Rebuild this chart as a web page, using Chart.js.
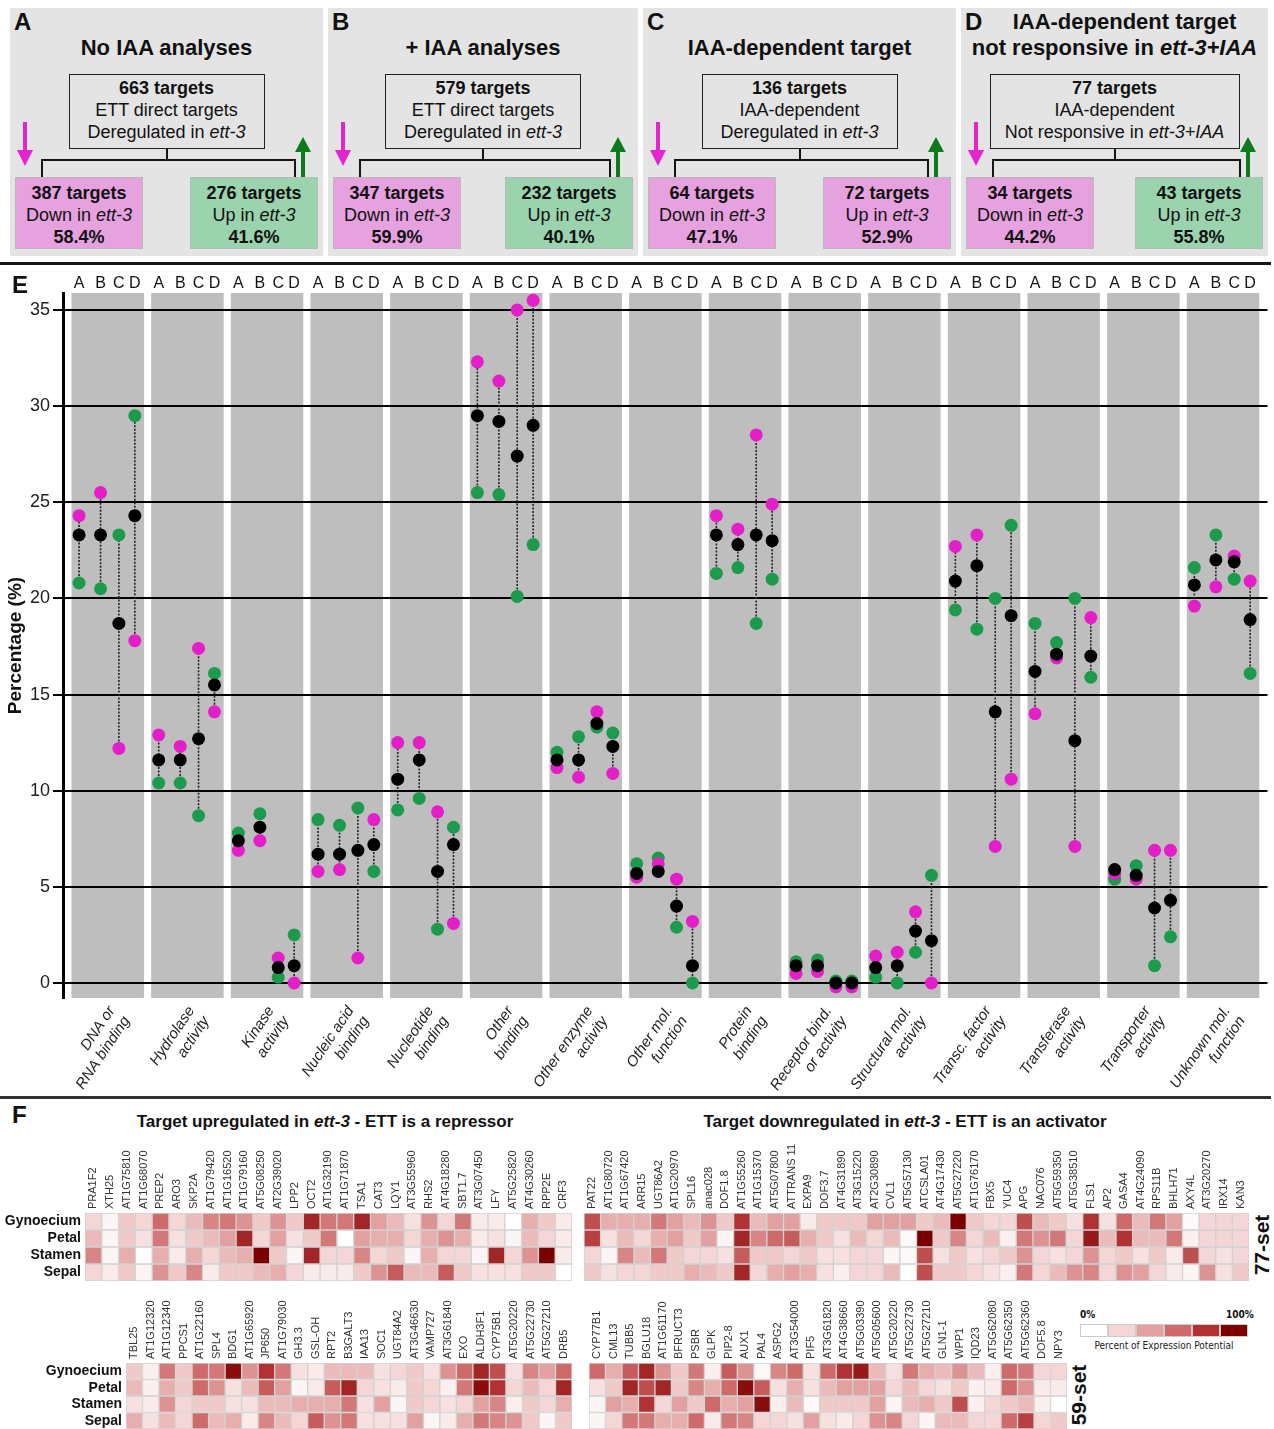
<!DOCTYPE html>
<html lang="en">
<head>
<meta charset="UTF-8">
<title>ETT direct targets</title>
<script src="https://cdn.jsdelivr.net/npm/chart.js@4.4.0/dist/chart.umd.min.js"></script>
<style>
  body { margin: 0; background: #fff; font-family: Arial, "Liberation Sans", sans-serif; color: #111; }
  #page { position: relative; width: 1274px; height: 1429px; overflow: hidden; }
  .abs { position: absolute; }
  .pnl { position: absolute; top: 8px; height: 248px; background: #e4e4e4; }
  .letter { position: absolute; font-weight: bold; font-size: 24px; line-height: 24px; }
  .ttl { position: absolute; font-weight: bold; font-size: 22px; line-height: 26px; text-align: center; white-space: nowrap; }
  .tbox { position: absolute; top: 74px; height: 75px; border: 1px solid #222; box-sizing: border-box; font-size: 18px; line-height: 22px; text-align: center; padding-top: 2px; white-space: nowrap; }
  .sbox { position: absolute; top: 177px; width: 128px; height: 72px; box-sizing: border-box; border: 1px solid #b9b9b9; font-size: 18px; line-height: 22px; text-align: center; padding-top: 4px; white-space: nowrap; }
  .pink { background: #e6a1df; }
  .green { background: #9ad3ae; }
  .ln { position: absolute; background: #151515; }
  .sub { position: absolute; font-weight: bold; font-size: 17px; white-space: nowrap; transform: translateX(-50%); }
  .setlab { position: absolute; font-weight: bold; font-size: 21px; transform: rotate(-90deg); transform-origin: center; white-space: nowrap; }
  canvas { position: absolute; }
</style>
</head>
<body>
<div id="page">
  <canvas id="chartE" width="1274" height="833" style="left:0;top:265px"></canvas>
  <canvas id="heatUp77" width="572" height="141" style="left:0;top:1140px"></canvas>
  <canvas id="heatDown77" width="665" height="141" style="left:584px;top:1140px"></canvas>
  <canvas id="heatUp59" width="572" height="139" style="left:0;top:1290px"></canvas>
  <canvas id="heatDown59" width="478" height="139" style="left:589px;top:1290px"></canvas>

  <div class="ln" style="left:0;top:262px;width:1271px;height:3px"></div>
  <div class="ln" style="left:0;top:1096px;width:1271px;height:3px;background:#333"></div>
  <div class="letter" style="left:12px;top:273px">E</div>
  <div class="letter" style="left:12px;top:1103px">F</div>
  <div class="sub" style="left:325px;top:1112px">Target upregulated in <i>ett-3</i> - ETT is a repressor</div>
  <div class="sub" style="left:905px;top:1112px">Target downregulated in <i>ett-3</i> - ETT is an activator</div>
  <div class="setlab" style="left:1232px;top:1233px">77-set</div>
  <div class="setlab" style="left:1049px;top:1383px">59-set</div>
  <div id="heatLegend"></div>
</div>

<script>
// Panel E: percentage of targets per molecular-function class, sets A-D
const functionLabels = [
  ['DNA or', 'RNA binding'], ['Hydrolase', 'activity'], ['Kinase', 'activity'],
  ['Nucleic acid', 'binding'], ['Nucleotide', 'binding'], ['Other', 'binding'],
  ['Other enzyme', 'activity'], ['Other mol.', 'function'], ['Protein', 'binding'],
  ['Receptor bind.', 'or activity'], ['Structural mol.', 'activity'], ['Transc. factor', 'activity'],
  ['Transferase', 'activity'], ['Transporter', 'activity'], ['Unknown mol.', 'function']
];
const setLetters = ['A', 'B', 'C', 'D'];
const yTicks = [0, 5, 10, 15, 20, 25, 30, 35];

// four values per class, in order A, B, C, D
const downPct = [
  24.3, 25.5, 12.2, 17.8,   12.9, 12.3, 17.4, 14.1,   6.9, 7.4, 1.3, 0.0,
  5.8, 5.9, 1.3, 8.5,       12.5, 12.5, 8.9, 3.1,     32.3, 31.3, 35.0, 35.5,
  11.2, 10.7, 14.1, 10.9,   5.5, 6.2, 5.4, 3.2,       24.3, 23.6, 28.5, 24.9,
  0.5, 0.6, -0.2, -0.2,     1.4, 1.6, 3.7, 0.0,       22.7, 23.3, 7.1, 10.6,
  14.0, 16.9, 7.1, 19.0,    5.7, 5.4, 6.9, 6.9,       19.6, 20.6, 22.2, 20.9
];
const allPct = [
  23.3, 23.3, 18.7, 24.3,   11.6, 11.6, 12.7, 15.5,   7.4, 8.1, 0.8, 0.9,
  6.7, 6.7, 6.9, 7.2,       10.6, 11.6, 5.8, 7.2,     29.5, 29.2, 27.4, 29.0,
  11.6, 11.6, 13.5, 12.3,   5.7, 5.8, 4.0, 0.9,       23.3, 22.8, 23.3, 23.0,
  0.9, 0.9, 0.0, 0.0,       0.8, 0.9, 2.7, 2.2,       20.9, 21.7, 14.1, 19.1,
  16.2, 17.1, 12.6, 17.0,   5.9, 5.6, 3.9, 4.3,       20.7, 22.0, 21.9, 18.9
];
const upPct = [
  20.8, 20.5, 23.3, 29.5,   10.4, 10.4, 8.7, 16.1,    7.8, 8.8, 0.3, 2.5,
  8.5, 8.2, 9.1, 5.8,       9.0, 9.6, 2.8, 8.1,       25.5, 25.4, 20.1, 22.8,
  12.0, 12.8, 13.3, 13.0,   6.2, 6.5, 2.9, 0.0,       21.3, 21.6, 18.7, 21.0,
  1.1, 1.2, 0.1, 0.1,       0.3, 0.0, 1.6, 5.6,       19.4, 18.4, 20.0, 23.8,
  18.7, 17.7, 20.0, 15.9,   5.4, 6.1, 0.9, 2.4,       21.6, 23.3, 21.0, 16.1
];

// Panel F: percent of expression potential per tissue
const tissues = ['Gynoecium', 'Petal', 'Stamen', 'Sepal'];
const up77Genes = ['PRA1F2','XTH25','AT1G75810','AT1G68070','PREP2','ARO3','SKP2A','AT1G79420','AT1G16520','AT1G79160',
  'AT5G08250','AT2G39020','LPP2','OCT2','AT1G32190','AT1G71870','TSA1','CAT3','LQY1','AT3G55960',
  'RHS2','AT4G18280','SBT1.7','AT3G07450','LFY','AT5G25820','AT4G30260','RPP2E','CRF3'];
const up77Values = [
  [20,5,25,20,60,20,30,50,55,45, 25,45,25,85,55,55,85,40,30,15, 45,20,55,10,10,0,35,25,10],
  [30,5,25,15,55,15,25,30,40,85, 20,40,15,25,55,0,40,35,35,20, 35,45,35,10,15,5,30,20,10],
  [50,5,35,0,35,10,35,20,30,35, 100,25,5,85,20,20,50,20,25,5, 35,20,20,5,85,20,45,100,10],
  [20,10,25,5,45,25,50,10,25,25, 30,35,20,10,10,10,25,45,65,30, 30,65,25,15,15,15,25,25,0]
];
const down77Genes = ['PAT22','AT1G80720','AT1G67420','ARR15','UGT86A2','AT1G20970','SPL16','anac028','DOF1.8','AT1G55260',
  'AT1G15370','AT5G07800','ATTRANS 11','EXPA9','DOF3.7','AT4G31890','AT3G15220','AT2G30890','CVL1','AT5G57130',
  'ATCSLA01','AT4G17430','AT5G27220','AT1G76170','FBX5','YUC4','APG','NAC076','AT5G59350','AT5G38510',
  'FLS1','AP2','GASA4','AT4G24090','RPS11B','BHLH71','AXY4L','AT3G20270','IRX14','KAN3'];
const down77Values = [
  [70,35,35,35,55,40,30,45,25,80, 30,40,40,10,25,25,25,40,40,40, 25,30,100,25,20,20,70,30,25,15, 80,15,60,30,55,40,3,20,20,20],
  [75,15,30,20,35,40,25,40,5,85, 50,60,65,35,25,15,30,20,30,3, 100,25,50,20,30,8,55,45,55,20, 90,30,80,30,30,55,8,20,20,20],
  [20,5,50,30,55,25,20,20,15,65, 25,25,20,25,15,15,20,20,5,3, 70,15,25,15,20,25,45,20,15,20, 45,20,25,15,25,10,70,20,15,20],
  [25,15,20,20,25,25,35,30,25,85, 20,35,40,35,15,8,20,20,30,0, 70,25,25,20,15,8,55,20,30,45, 50,20,45,40,20,10,5,45,15,25]
];
const up59Genes = ['TBL25','AT1G12320','AT1G12340','PPCS1','AT1G22160','SPL4','BDG1','AT1G65920','JP650','AT1G79030',
  'GH3.3','GSL-OH','RPT2','B3GALT3','IAA13','SOC1','UGT84A2','AT3G46630','VAMP727','AT3G61840',
  'EXO','ALDH3F1','CYP75B1','AT5G20220','AT5G22730','AT5G27210','DRB5'];
const up59Values = [
  [25,8,55,25,60,55,95,45,80,55, 15,10,30,30,30,15,20,25,15,45, 60,85,70,15,50,40,60],
  [30,8,35,25,60,45,15,30,65,40, 5,10,65,85,20,15,10,25,20,8, 55,95,80,20,30,20,85],
  [15,10,45,20,25,25,15,15,30,30, 35,35,35,55,15,40,5,25,20,15, 20,40,50,8,25,20,35],
  [35,15,30,20,60,30,35,10,50,30, 20,65,45,55,15,15,15,40,5,10, 35,55,50,45,25,5,25]
];
const down59Genes = ['CYP77B1','CML13','TUBB5','BGLU18','AT1G61170','BFRUCT3','PSBR','GLPK','PIP2-8','AUX1',
  'PAL4','ASPG2','AT3G54000','PIF5','AT3G61820','AT4G38660','AT5G03390','AT5G05600','AT5G20220','AT5G22730',
  'AT5G27210','GLN1-1','WPP1','IQD23','AT5G62080','AT5G62350','AT5G62360','DOF5.8','NPY3'];
const down59Values = [
  [60,35,65,85,45,25,55,8,65,45, 3,50,60,15,60,80,90,30,15,55, 35,30,45,30,8,60,55,20,20],
  [15,25,85,70,85,25,50,35,60,95, 65,15,35,15,30,40,40,40,20,30, 20,15,25,8,10,60,45,10,10],
  [5,40,35,80,20,40,25,60,35,40, 95,8,30,3,25,25,25,40,5,30, 35,25,70,8,20,25,30,8,0],
  [5,20,55,55,35,35,60,10,55,50, 20,20,15,40,15,10,20,45,50,20, 5,30,30,20,20,60,75,20,25]
];

// ---- panels A-D (plain html) ----
const pageEl = document.getElementById('page');
function add(html) { pageEl.insertAdjacentHTML('beforeend', html); }

const panelDefs = [
  { x: 10, w: 313, boxW: 196, letter: 'A', title: 'No IAA analyses',
    top: ['<b>663 targets</b>', 'ETT direct targets', 'Deregulated in <i>ett-3</i>'],
    down: ['387 targets', '58.4%'], up: ['276 targets', '41.6%'], upClass: 'green' },
  { x: 328, w: 310, boxW: 196, letter: 'B', title: '+ IAA analyses',
    top: ['<b>579 targets</b>', 'ETT direct targets', 'Deregulated in <i>ett-3</i>'],
    down: ['347 targets', '59.9%'], up: ['232 targets', '40.1%'], upClass: 'green' },
  { x: 643, w: 313, boxW: 196, letter: 'C', title: 'IAA-dependent target',
    top: ['<b>136 targets</b>', 'IAA-dependent', 'Deregulated in <i>ett-3</i>'],
    down: ['64 targets', '47.1%'], up: ['72 targets', '52.9%'], upClass: 'pink' },
  { x: 961, w: 307, boxW: 250, letter: 'D', title: null,
    top: ['<b>77 targets</b>', 'IAA-dependent', 'Not responsive in <i>ett-3+IAA</i>'],
    down: ['34 targets', '44.2%'], up: ['43 targets', '55.8%'], upClass: 'green' }
];

panelDefs.forEach(p => {
  const cx = p.x + p.w / 2;
  const lx = p.x + 5;
  const rx = p.x + p.w - 5 - 128;
  add(`<div class="pnl" style="left:${p.x}px;width:${p.w}px"></div>`);
  add(`<div class="letter" style="left:${p.x + 4}px;top:10px">${p.letter}</div>`);
  if (p.title) {
    add(`<div class="ttl" style="left:${p.x}px;width:${p.w}px;top:35px">${p.title}</div>`);
  } else {
    add(`<div class="ttl" style="left:${p.x + 20}px;width:${p.w - 20}px;top:9px">IAA-dependent target</div>`);
    add(`<div class="ttl" style="left:${p.x}px;width:${p.w}px;top:35px">not responsive in <i>ett-3+IAA</i></div>`);
  }
  add(`<div class="tbox" style="left:${cx - p.boxW / 2}px;width:${p.boxW}px">${p.top.join('<br>')}</div>`);
  // connectors
  const sl = lx + 26, sr = rx + 128 - 24;
  add(`<div class="ln" style="left:${cx - 1}px;top:149px;width:2px;height:12px"></div>`);
  add(`<div class="ln" style="left:${sl}px;top:159px;width:${sr - sl + 2}px;height:2px"></div>`);
  add(`<div class="ln" style="left:${sl}px;top:159px;width:2px;height:18px"></div>`);
  add(`<div class="ln" style="left:${sr}px;top:159px;width:2px;height:18px"></div>`);
  // boxes
  add(`<div class="sbox pink" style="left:${lx}px"><b>${p.down[0]}</b><br>Down in <i>ett-3</i><br><b>${p.down[1]}</b></div>`);
  add(`<div class="sbox ${p.upClass}" style="left:${rx}px"><b>${p.up[0]}</b><br>Up in <i>ett-3</i><br><b>${p.up[1]}</b></div>`);
  // arrows
  const ax = lx + 10, gx = rx + 128 - 15;
  add(`<svg class="abs" style="left:${ax - 8}px;top:122px" width="16" height="44"><rect x="6" y="0" width="4" height="30" fill="#e424cf"/><polygon points="0,28 16,28 8,44" fill="#e424cf"/></svg>`);
  add(`<svg class="abs" style="left:${gx - 8}px;top:137px" width="16" height="40"><polygon points="8,0 16,15 0,15" fill="#0c7a1d"/><rect x="6" y="14" width="4" height="26" fill="#0c7a1d"/></svg>`);
});

// ---- panel E ----
Chart.defaults.font.family = 'Arial, "Liberation Sans", sans-serif';

const setOffsets = [-0.36, -0.09, 0.14, 0.34];
const xPos = k => Math.floor(k / 4) + setOffsets[k % 4];
const toPoints = arr => arr.map((v, k) => ({ x: xPos(k), y: v }));

// dotted stems from lowest to highest value of each set
const stems = [];
allPct.forEach((v, k) => {
  const vals = [downPct[k], v, upPct[k]];
  stems.push({ x: xPos(k), y: Math.min(...vals) }, { x: xPos(k), y: Math.max(...vals) }, { x: xPos(k), y: null });
});

const X_MIN = -0.5615, X_MAX = 14.558;

// grey column behind each function class
const bandPlugin = {
  id: 'bands',
  beforeDraw(chart) {
    const { ctx, scales: { x, y } } = chart;
    ctx.save();
    ctx.fillStyle = '#bebebe';
    functionLabels.forEach((_, i) => {
      const l = x.getPixelForValue(i - 0.455);
      const r = x.getPixelForValue(i + 0.455);
      ctx.fillRect(l, y.top, r - l, y.bottom - y.top);
    });
    ctx.restore();
  }
};

new Chart(document.getElementById('chartE'), {
  type: 'scatter',
  data: {
    datasets: [
      { label: 'All', data: toPoints(allPct), backgroundColor: '#000', pointRadius: 6.5, pointBorderWidth: 0, order: 0 },
      { label: 'Down in ett-3', data: toPoints(downPct), backgroundColor: '#e41ec9', pointRadius: 6.5, pointBorderWidth: 0, order: 1 },
      { label: 'Up in ett-3', data: toPoints(upPct), backgroundColor: '#1b9b4b', pointRadius: 6.5, pointBorderWidth: 0, order: 2 },
      { type: 'line', label: 'range', data: stems, borderColor: '#222', borderWidth: 1.6, borderDash: [2, 1.5],
        pointRadius: 0, showLine: true, spanGaps: false, order: 3 }
    ]
  },
  options: {
    responsive: false,
    animation: false,
    layout: { padding: { left: 0, right: 6, top: 0, bottom: 0 } },
    plugins: { legend: { display: false }, tooltip: { enabled: false } },
    scales: {
      x: {
        type: 'linear', position: 'bottom', min: X_MIN, max: X_MAX,
        grid: { display: false, drawTicks: false }, border: { display: false },
        afterBuildTicks: s => { s.ticks = functionLabels.map((_, i) => ({ value: i })); },
        afterFit: s => { s.height = 100; s.paddingLeft = 0; s.paddingRight = 0; },
        ticks: { autoSkip: false, minRotation: 56, maxRotation: 56, padding: 5, labelOffset: 4, color: '#222',
                 font: { size: 15, style: 'italic' }, callback: (v, i) => functionLabels[i] }
      },
      xTop: {
        type: 'linear', position: 'top', min: X_MIN, max: X_MAX,
        grid: { display: false, drawTicks: false }, border: { display: false },
        afterBuildTicks: s => { s.ticks = allPct.map((_, k) => ({ value: xPos(k) })); },
        afterFit: s => { s.height = 28; s.paddingLeft = 0; s.paddingRight = 0; },
        ticks: { autoSkip: false, maxRotation: 0, padding: 0, color: '#111', font: { size: 16 },
                 callback: (v, i) => setLetters[i % 4] }
      },
      y: {
        min: -0.78, max: 35.88,
        afterBuildTicks: s => { s.ticks = yTicks.map(v => ({ value: v })); },
        afterFit: s => { s.width = 63; s.paddingTop = 0; s.paddingBottom = 0; },
        grid: { color: '#000', lineWidth: 2, drawTicks: true, tickLength: 10 },
        border: { display: true, color: '#000', width: 3 },
        ticks: { color: '#222', font: { size: 18 }, padding: 3 },
        title: { display: true, text: 'Percentage (%)', color: '#111', font: { size: 19, weight: 'bold' } }
      }
    }
  },
  plugins: [bandPlugin]
});

// ---- panel F heatmaps ----
const heatStops = [[0, [255, 255, 255]], [20, [244, 214, 214]], [40, [226, 160, 160]],
                   [60, [206, 106, 106]], [80, [176, 50, 50]], [100, [125, 0, 0]]];
function heatColor(v) {
  for (let i = 1; i < heatStops.length; i++) {
    if (v <= heatStops[i][0]) {
      const [a, ca] = heatStops[i - 1];
      const [b, cb] = heatStops[i];
      const t = (v - a) / (b - a);
      return `rgb(${ca.map((c, j) => Math.round(c + (cb[j] - c) * t)).join(',')})`;
    }
  }
  return 'rgb(125,0,0)';
}

function heatmap(id, genes, values, leftW, topH) {
  new Chart(document.getElementById(id), {
    type: 'bar',
    data: {
      labels: genes,
      datasets: tissues.map((t, r) => ({
        label: t,
        data: genes.map(() => 1),
        backgroundColor: values[r].map(heatColor),
        borderColor: '#d2d2d2', borderWidth: 1, borderSkipped: false,
        barPercentage: 1, categoryPercentage: 1
      }))
    },
    options: {
      responsive: false,
      animation: false,
      layout: { padding: 0 },
      plugins: { legend: { display: false }, tooltip: { enabled: false } },
      scales: {
        x: {
          position: 'top', stacked: true,
          grid: { display: false, drawTicks: false }, border: { display: false },
          ticks: { autoSkip: false, minRotation: 90, maxRotation: 90, padding: 4, labelOffset: 13,
                   color: '#333', font: { size: 11 } },
          afterFit: s => { s.height = topH; s.paddingLeft = 0; s.paddingRight = 0; }
        },
        y: {
          display: leftW > 0, stacked: true, reverse: true, min: 0, max: 4,
          grid: { display: false, drawTicks: false }, border: { display: false },
          afterBuildTicks: s => { s.ticks = tissues.map((_, r) => ({ value: r + 0.5 })); },
          ticks: { padding: 4, color: '#111', font: { size: 14, weight: 'bold' }, callback: (v, i) => tissues[i] },
          afterFit: s => { s.width = leftW; s.paddingTop = 0; s.paddingBottom = 0; }
        }
      }
    }
  });
}

heatmap('heatUp77', up77Genes, up77Values, 85, 73);
heatmap('heatDown77', down77Genes, down77Values, 0, 73);
heatmap('heatUp59', up59Genes, up59Values, 126, 73);
heatmap('heatDown59', down59Genes, down59Values, 0, 73);

// colour key
const keySteps = [0, 20, 40, 60, 80, 100];
let key = '<div class="abs" style="left:1080px;top:1309px;font:bold 10px \'DejaVu Sans Condensed\',sans-serif">0%</div>' +
          '<div class="abs" style="left:1226px;top:1309px;font:bold 10px \'DejaVu Sans Condensed\',sans-serif">100%</div>';
keySteps.forEach((v, i) => {
  key += `<div class="abs" style="left:${1080 + i * 28}px;top:1324px;width:28px;height:13px;box-sizing:border-box;border:1px solid #ccc;background:${heatColor(v)}"></div>`;
});
key += '<div class="abs" style="left:1080px;width:168px;text-align:center;top:1340px;font:10px \'DejaVu Sans Condensed\',sans-serif;color:#222">Percent of Expression Potential</div>';
document.getElementById('heatLegend').innerHTML = key;
</script>
</body>
</html>
